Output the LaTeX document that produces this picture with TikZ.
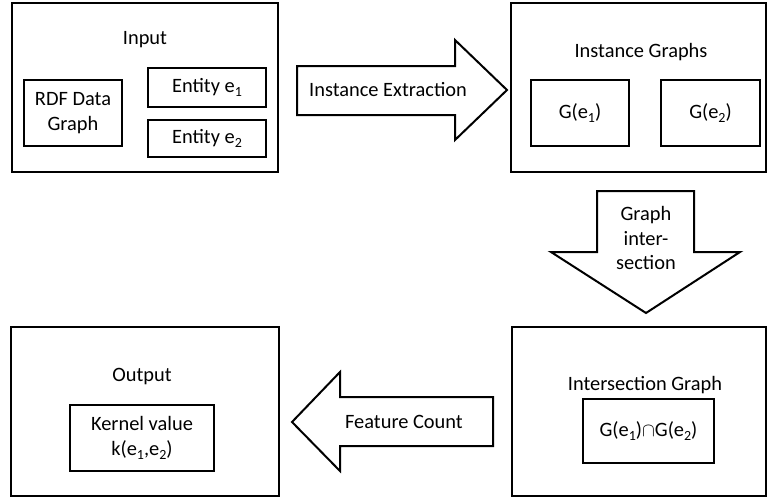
\documentclass[tikz,border=0pt]{standalone}
\usepackage{fontspec}
\setmainfont{Carlito}
\usetikzlibrary{fit}
% lowered small index digits
\newcommand\idx[1]{\raisebox{-0.45ex}{\fontsize{10.5}{10.5}\selectfont #1}}
\begin{document}
\begin{tikzpicture}[x=0.75pt,y=-0.75pt,
  box/.style={draw,line width=1.5pt,inner sep=0pt},
  blockarrow/.style={draw,line width=1.5pt,line join=miter},
  lbl/.style={font=\fontsize{15.3}{18.5}\selectfont,align=center,inner sep=0pt}]
\useasboundingbox (0,0) rectangle (768,497);

% Input panel
\node[box,fit={(12,3) (278,172)}] (input) {};
\node[lbl] (inputT) at (145,40) {Input};
\node[box,fit={(24,80) (122,146)}] (rdf) {};
\node[lbl] at (rdf.center) {RDF Data\\Graph};
\node[box,fit={(148,68) (266,107)}] (ent1) {};
\node[lbl] at (ent1.center) {Entity e\idx{1}};
\node[box,fit={(148,120) (266,157)}] (ent2) {};
\node[lbl] at (ent2.center) {Entity e\idx{2}};

% Instance graphs panel
\node[box,fit={(511,3) (766,172)}] (inst) {};
\node[lbl] (instT) at (641,52) {Instance Graphs};
\node[box,fit={(531,80) (629,146)}] (g1) {};
\node[lbl] at (g1.center) {G(e\idx{1})};
\node[box,fit={(661,80) (760,146)}] (g2) {};
\node[lbl] at (g2.center) {G(e\idx{2})};

% Intersection panel
\node[box,fit={(512,327) (766,496)}] (inter) {};
\node[lbl] (interT) at (645,385) {Intersection Graph};
\node[box,fit={(583,399) (714,463)}] (gcap) {};
\node[lbl] at (gcap.center) {G(e\idx{1})$\cap$G(e\idx{2})};

% Output panel
\node[box,fit={(11,327) (279,496)}] (output) {};
\node[lbl] (outputT) at (142,377) {Output};
\node[box,fit={(70,405) (214,471)}] (kernel) {};
\node[lbl] at (kernel.center) {Kernel value\\k(e\idx{1},e\idx{2})};

% Block arrows between the panels
\draw[blockarrow] (297,66) -- (455,66) -- (455,40) -- (507,90) -- (455,140)
  -- (455,115) -- (297,115) -- cycle;
\node[lbl] (extract) at (388,90) {Instance Extraction};

\draw[blockarrow] (597,191) -- (694,191) -- (694,252) -- (740,252) -- (646,313)
  -- (551,252) -- (597,252) -- cycle;
\node[lbl] (intersect) at (646,238) {Graph\\inter-\\section};

\draw[blockarrow] (493,397) -- (340,397) -- (340,372) -- (292,422) -- (340,471)
  -- (340,446) -- (493,446) -- cycle;
\node[lbl] (count) at (404,422) {Feature Count};
\end{tikzpicture}
\end{document}
